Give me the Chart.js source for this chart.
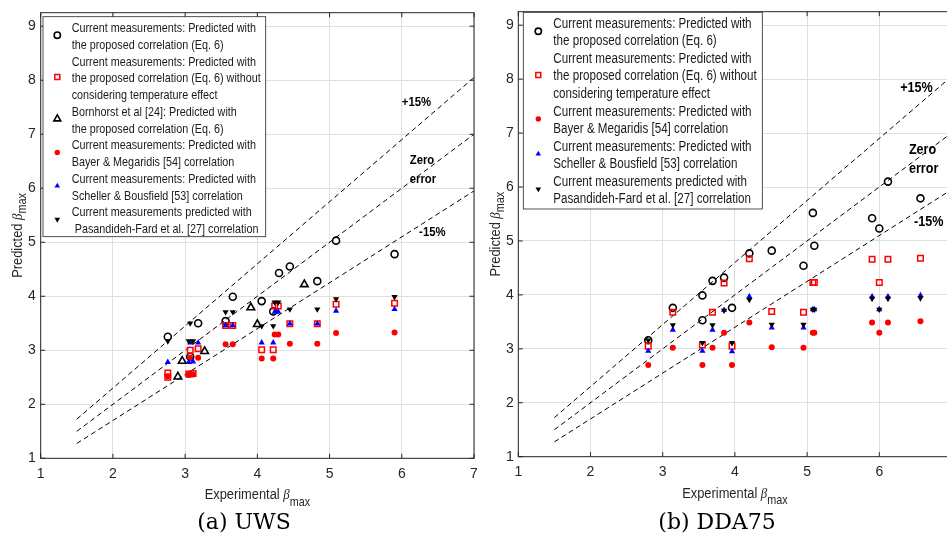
<!DOCTYPE html>
<html>
<head>
<meta charset="utf-8">
<title>Predicted vs experimental beta max</title>
<script src="https://cdn.jsdelivr.net/npm/chart.js@4.4.1/dist/chart.umd.min.js"></script>
<style>
  html, body { margin: 0; padding: 0; background: #fff; overflow: hidden; width: 947px; height: 535px; }
  canvas { position: absolute; top: 0; }
  #uws { left: 0; }
  #dda { left: 480px; }
  .cap { position: absolute; top: 511px; font-family: "DejaVu Serif", serif; font-size: 22px; line-height: 22px;
         color: #000; white-space: nowrap; transform: translateX(-50%); }
</style>
</head>
<body>
<canvas id="uws" width="480" height="535"></canvas>
<canvas id="dda" width="480" height="535"></canvas>
<div class="cap" style="left:244px">(a) UWS</div>
<div class="cap" style="left:717px">(b) DDA75</div>
<script>
// ---- (a) UWS ----
const uwsEq6X = [2.76, 3.07, 3.18, 3.56, 3.66, 4.06, 4.22, 4.30, 4.45, 4.83, 5.09, 5.90];
const uwsEq6Y = [3.25, 2.88, 3.50, 3.54, 3.99, 3.91, 3.72, 4.43, 4.55, 4.28, 5.03, 4.78];
const uwsNoTempX = [2.76, 2.76, 3.05, 3.11, 3.07, 3.18, 3.56, 3.66, 4.06, 4.22, 4.24, 4.29, 4.45, 4.83, 5.09, 5.90];
const uwsNoTempY = [2.58, 2.50, 2.56, 2.57, 3.00, 3.03, 3.46, 3.46, 3.01, 3.01, 3.82, 3.82, 3.49, 3.49, 3.85, 3.87];
const uwsBornX = [2.90, 2.96, 3.27, 3.91, 4.00, 4.65];
const uwsBornY = [2.51, 2.80, 2.98, 3.79, 3.48, 4.22];
const uwsX = [2.76, 3.05, 3.11, 3.07, 3.18, 3.56, 3.66, 4.06, 4.22, 4.24, 4.29, 4.45, 4.83, 5.09, 5.90];
const uwsBayerY = [2.52, 2.54, 2.55, 2.86, 2.86, 3.11, 3.11, 2.85, 2.85, 3.29, 3.29, 3.12, 3.12, 3.32, 3.33];
const uwsSchellerY = [2.78, 2.78, 2.79, 3.14, 3.14, 3.46, 3.46, 3.14, 3.14, 3.71, 3.71, 3.49, 3.49, 3.73, 3.76];
const uwsPasandX = [2.76, 3.05, 3.11, 3.07, 3.56, 3.66, 4.06, 4.22, 4.24, 4.29, 4.45, 4.83, 5.09, 5.90];
const uwsPasandY = [3.17, 3.17, 3.17, 3.50, 3.71, 3.71, 3.45, 3.45, 3.89, 3.89, 3.76, 3.76, 3.95, 3.99];

// ---- (b) DDA75 ----
const ddaEq6X = [2.80, 3.14, 3.55, 3.55, 3.69, 3.85, 3.96, 4.20, 4.51, 4.95, 5.08, 5.10, 5.90, 6.00, 6.12, 6.57];
const ddaEq6Y = [3.16, 3.76, 3.99, 3.53, 4.26, 4.32, 3.76, 4.77, 4.82, 4.54, 5.52, 4.91, 5.42, 5.23, 6.10, 5.79];
const ddaX = [2.80, 3.14, 3.55, 3.69, 3.85, 3.96, 4.20, 4.51, 4.95, 5.08, 5.10, 5.90, 6.00, 6.12, 6.57];
const ddaNoTempY = [3.05, 3.68, 3.07, 3.68, 4.22, 3.05, 4.67, 3.69, 3.68, 4.23, 4.23, 4.66, 4.23, 4.66, 4.68];
const ddaBayerY = [2.70, 3.02, 2.70, 3.02, 3.30, 2.70, 3.49, 3.03, 3.02, 3.30, 3.30, 3.49, 3.30, 3.49, 3.51];
const ddaSchellerY = [2.96, 3.35, 2.96, 3.35, 3.72, 2.95, 3.97, 3.39, 3.39, 3.73, 3.73, 3.97, 3.73, 3.97, 3.99];
const ddaPasandY = [3.16, 3.44, 3.11, 3.44, 3.71, 3.11, 3.91, 3.45, 3.45, 3.73, 3.73, 3.93, 3.73, 3.93, 3.94];

// reference lines y = k*x
const guideX = [1.5, 7];
const guideRatio = [1.15, 1, 0.85];

const xTicks = [1, 7];      // axis range
const yTicks = [1, 9.25];

const SANS = '"Liberation Sans", Arial, Helvetica, sans-serif';
const INK = '#262626';
const NONE = 'rgba(0,0,0,0)';

// marker styles
const mEq6 = { pointStyle: 'circle', radius: 3.5, rotation: 0, border: '#000', fill: NONE, bw: 1.6 };
const mNoTemp = { pointStyle: 'rect', radius: 3.9, rotation: 0, border: '#ff0000', fill: NONE, bw: 1.5 };
const mBorn = { pointStyle: 'triangle', radius: 4.4, rotation: 0, border: '#000', fill: NONE, bw: 1.6 };
const mBayer = { pointStyle: 'circle', radius: 3, rotation: 0, border: '#ff0000', fill: '#ff0000', bw: 0 };
const mScheller = { pointStyle: 'triangle', radius: 3.6, rotation: 0, border: '#0000ff', fill: '#0000ff', bw: 0 };
const mPasand = { pointStyle: 'triangle', radius: 3.6, rotation: 180, border: '#000', fill: '#000', bw: 0 };

function pts(xs, ys) {
    return xs.map(function (x, i) { return { x: x, y: ys[i] }; });
}

function markerSet(xs, ys, m, order) {
    return {
        data: pts(xs, ys),
        showLine: false,
        pointStyle: m.pointStyle,
        pointRadius: m.radius,
        pointRotation: m.rotation,
        pointBorderColor: m.border,
        pointBackgroundColor: m.fill,
        pointBorderWidth: m.bw,
        order: order
    };
}

function guideSets() {
    return guideRatio.map(function (k) {
        return {
            data: guideX.map(function (x) { return { x: x, y: k * x }; }),
            showLine: true,
            borderColor: '#000',
            borderWidth: 1,
            borderDash: [5, 3.5],
            pointRadius: 0,
            fill: false,
            order: 10
        };
    });
}

// narrow text, like the original figure font
function narrowText(ctx, text, x, y, font, sx, align) {
    ctx.save();
    ctx.font = font;
    ctx.textAlign = 'left';
    ctx.textBaseline = 'middle';
    var w = ctx.measureText(text).width * sx;
    var x0 = align === 'center' ? x - w / 2 : (align === 'right' ? x - w : x);
    ctx.translate(x0, y);
    ctx.scale(sx, 1);
    ctx.fillText(text, 0, 0);
    ctx.restore();
}

function drawMarker(ctx, m, x, y, k) {
    ctx.save();
    ctx.fillStyle = m.fill;
    ctx.strokeStyle = m.border;
    ctx.lineWidth = m.bw;
    Chart.helpers.drawPoint(ctx, {
        pointStyle: m.pointStyle, rotation: m.rotation, radius: m.radius * k, borderWidth: m.bw
    }, x, y);
    ctx.restore();
}

// "Experimental beta_max" style label: pieces drawn with baseline offsets
function betaLabel(ctx, word, sx, size) {
    var fMain = size + 'px ' + SANS;
    var fBeta = 'italic ' + size + 'px "Liberation Serif", serif';
    var fSub = Math.round(size * 0.84) + 'px ' + SANS;
    ctx.font = fMain; var w1 = ctx.measureText(word + ' ').width;
    ctx.font = fBeta; var w2 = ctx.measureText('\u03B2').width;
    ctx.font = fSub; var w3 = ctx.measureText('max').width;
    var total = (w1 + w2 + w3) * sx;
    return function (subDrop) {
        ctx.scale(sx, 1);
        ctx.textBaseline = 'alphabetic';
        ctx.textAlign = 'left';
        ctx.fillStyle = INK;
        var x = -total / 2 / sx;
        ctx.font = fMain; ctx.fillText(word + ' ', x, 0);
        ctx.font = fBeta; ctx.fillText('\u03B2', x + w1, 0);
        ctx.font = fSub; ctx.fillText('max', x + w1 + w2, subDrop);
    };
}

function decor(cfg) {
    return {
        id: 'decor',
        afterDraw: function (chart) {
            var ctx = chart.ctx, a = chart.chartArea;
            var xs = chart.scales.x, ys = chart.scales.y;
            ctx.save();

            // axes box with inward ticks
            ctx.strokeStyle = INK;
            ctx.lineWidth = 1;
            ctx.strokeRect(a.left, a.top, a.right - a.left, a.bottom - a.top);
            ctx.beginPath();
            xs.ticks.forEach(function (t) {
                var p = xs.getPixelForValue(t.value);
                ctx.moveTo(p, a.bottom); ctx.lineTo(p, a.bottom - 4.5);
                ctx.moveTo(p, a.top); ctx.lineTo(p, a.top + 4.5);
            });
            ys.ticks.forEach(function (t) {
                var p = ys.getPixelForValue(t.value);
                ctx.moveTo(a.left, p); ctx.lineTo(a.left + 4.5, p);
                ctx.moveTo(a.right, p); ctx.lineTo(a.right - 4.5, p);
            });
            ctx.stroke();

            // line labels
            ctx.fillStyle = '#000';
            cfg.notes.forEach(function (n) {
                narrowText(ctx, n.text, xs.getPixelForValue(n.x), ys.getPixelForValue(n.y),
                    'bold ' + cfg.noteSize + 'px ' + SANS, cfg.noteSx, 'left');
            });

            // axis titles
            var cx = (a.left + a.right) / 2;
            ctx.save();
            ctx.translate(cx, a.bottom + 41);
            betaLabel(ctx, 'Experimental', 0.83, 15.5)(6.5);
            ctx.restore();

            ctx.save();
            ctx.translate(a.left - 18.5, (a.top + a.bottom) / 2);
            ctx.rotate(-Math.PI / 2);
            betaLabel(ctx, 'Predicted', 0.83, 15.5)(4);
            ctx.restore();

            // legend
            var L = cfg.legend;
            ctx.fillStyle = '#fff';
            ctx.fillRect(L.x, L.y, L.w, L.h);
            ctx.strokeStyle = INK;
            ctx.lineWidth = 0.8;
            ctx.strokeRect(L.x, L.y, L.w, L.h);
            var row = 0;
            L.items.forEach(function (it) {
                var mid = L.line0 + (row + (it.lines.length - 1) / 2) * L.lineH - 1.5;
                drawMarker(ctx, it.marker, L.markX, mid, 0.9);
                ctx.fillStyle = '#1a1a1a';
                it.lines.forEach(function (t, k) {
                    narrowText(ctx, t, L.textX, L.line0 + (row + k) * L.lineH, L.size + 'px ' + SANS, L.sx, 'left');
                });
                row += it.lines.length;
            });
            ctx.restore();
        }
    };
}

function makeChart(id, datasets, box, cfg) {
    return new Chart(document.getElementById(id), {
        type: 'scatter',
        data: { datasets: datasets },
        options: {
            responsive: false,
            animation: false,
            devicePixelRatio: 1,
            layout: { padding: { left: 0, right: box.right, top: box.top, bottom: 0 } },
            plugins: { legend: { display: false }, tooltip: { enabled: false } },
            scales: {
                x: {
                    type: 'linear', min: xTicks[0], max: xTicks[1],
                    afterFit: function (s) { s.height = box.xH; s.paddingLeft = 0; s.paddingRight = 0; },
                    ticks: { stepSize: 1, includeBounds: false, autoSkip: false, maxRotation: 0, padding: 7,
                             color: INK, font: { family: SANS, size: 14 } },
                    grid: { color: '#dfdfdf', lineWidth: 1, drawTicks: false },
                    border: { display: false }
                },
                y: {
                    type: 'linear', min: yTicks[0], max: yTicks[1],
                    afterFit: function (s) { s.width = box.yW; s.paddingTop = 0; s.paddingBottom = 0; },
                    ticks: { stepSize: 1, includeBounds: false, autoSkip: false, padding: box.yPad,
                             color: INK, font: { family: SANS, size: 14 } },
                    grid: { color: '#dfdfdf', lineWidth: 1, drawTicks: false },
                    border: { display: false }
                }
            }
        },
        plugins: [decor(cfg)]
    });
}

var uwsSets = [
    markerSet(uwsPasandX, uwsPasandY, mPasand, 1),
    markerSet(uwsX, uwsSchellerY, mScheller, 2),
    markerSet(uwsX, uwsBayerY, mBayer, 3),
    markerSet(uwsBornX, uwsBornY, mBorn, 4),
    markerSet(uwsNoTempX, uwsNoTempY, mNoTemp, 5),
    markerSet(uwsEq6X, uwsEq6Y, mEq6, 6)
].concat(guideSets());

var ddaSets = [
    markerSet(ddaX, ddaPasandY, mPasand, 1),
    markerSet(ddaX, ddaSchellerY, mScheller, 2),
    markerSet(ddaX, ddaBayerY, mBayer, 3),
    markerSet(ddaX, ddaNoTempY, mNoTemp, 5),
    markerSet(ddaEq6X, ddaEq6Y, mEq6, 6)
].concat(guideSets());

makeChart('uws', uwsSets, { right: 5, top: 12.7, xH: 76.7, yW: 40.7, yPad: 5 }, {
    noteSize: 13.5, noteSx: 0.84,
    notes: [
        { text: '+15%', x: 6.00, y: 7.60 },
        { text: 'Zero', x: 6.11, y: 6.51 },
        { text: 'error', x: 6.11, y: 6.17 },
        { text: '-15%', x: 6.24, y: 5.18 }
    ],
    legend: {
        x: 43, y: 16.7, w: 222.7, h: 220, markX: 57.3, textX: 71.7, line0: 28.3, lineH: 16.75, size: 13.5, sx: 0.8,
        items: [
            { marker: mEq6, lines: ['Current measurements: Predicted with', 'the proposed correlation (Eq. 6)'] },
            { marker: mNoTemp, lines: ['Current measurements: Predicted with', 'the proposed correlation (Eq. 6) without', 'considering temperature effect'] },
            { marker: mBorn, lines: ['Bornhorst et al [24]: Predicted with', 'the proposed correlation (Eq. 6)'] },
            { marker: mBayer, lines: ['Current measurements: Predicted with', 'Bayer & Megaridis [54] correlation'] },
            { marker: mScheller, lines: ['Current measurements: Predicted with', 'Scheller & Bousfield [53] correlation'] },
            { marker: mPasand, lines: ['Current measurements predicted with', ' Pasandideh-Fard et al. [27] correlation'] }
        ]
    }
});

makeChart('dda', ddaSets, { right: 8.5, top: 11.7, xH: 78.3, yW: 38.3, yPad: 4.5 }, {
    noteSize: 14, noteSx: 0.9,
    notes: [
        { text: '+15%', x: 6.29, y: 7.83 },
        { text: 'Zero', x: 6.41, y: 6.68 },
        { text: 'error', x: 6.41, y: 6.33 },
        { text: '-15%', x: 6.48, y: 5.34 }
    ],
    legend: {
        x: 43.3, y: 12.3, w: 239, h: 196.7, markX: 58.3, textX: 73.3, line0: 24, lineH: 17.53, size: 14, sx: 0.83,
        items: [
            { marker: mEq6, lines: ['Current measurements: Predicted with', 'the proposed correlation (Eq. 6)'] },
            { marker: mNoTemp, lines: ['Current measurements: Predicted with', 'the proposed correlation (Eq. 6) without', 'considering temperature effect'] },
            { marker: mBayer, lines: ['Current measurements: Predicted with', 'Bayer & Megaridis [54] correlation'] },
            { marker: mScheller, lines: ['Current measurements: Predicted with', 'Scheller & Bousfield [53] correlation'] },
            { marker: mPasand, lines: ['Current measurements predicted with', 'Pasandideh-Fard et al. [27] correlation'] }
        ]
    }
});
</script>
</body>
</html>
